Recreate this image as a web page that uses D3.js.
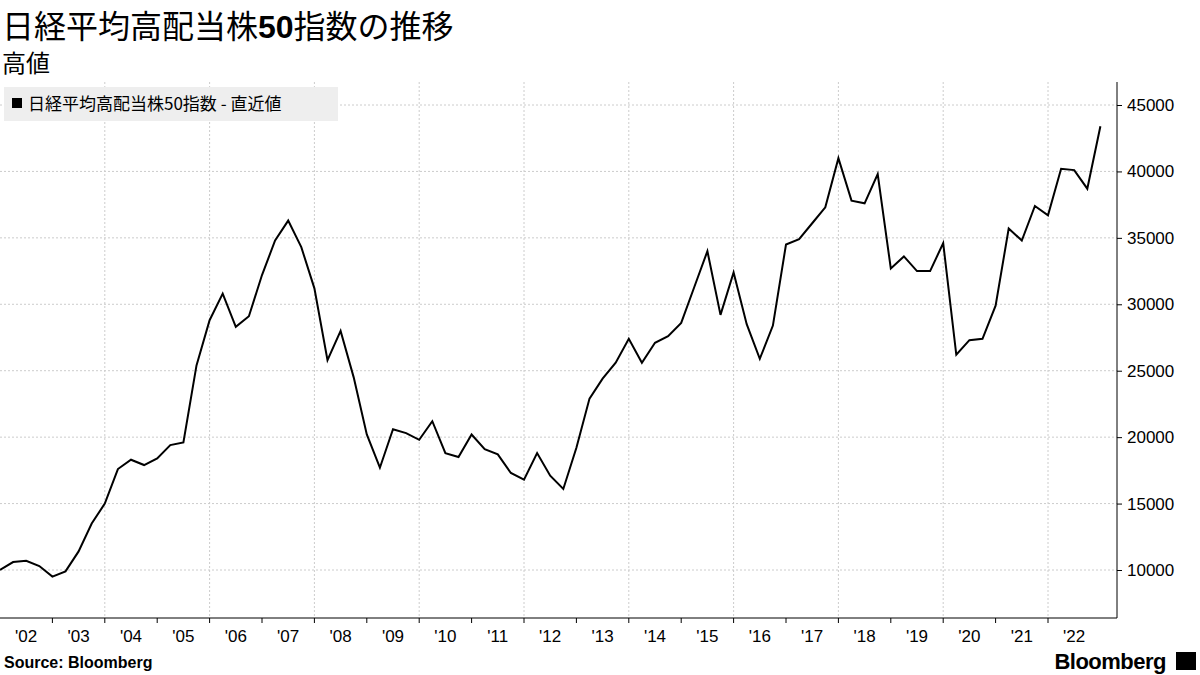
<!DOCTYPE html>
<html><head><meta charset="utf-8">
<script src="https://cdn.jsdelivr.net/npm/d3@7"></script>
<style>body{margin:0;background:#fff;font-family:"Noto Sans CJK JP","Noto Sans",sans-serif}</style>
</head><body><svg id="c" width="1200" height="675"></svg>
<script>
const startYear = 2002;
const values = [10000,10600,10700,10300,9500,9900,11400,13500,15000,17600,18300,17900,18400,19400,19600,25400,28800,30800,28300,29100,32200,34800,36300,34300,31200,25800,28000,24500,20200,17700,20600,20300,19800,21200,18800,18500,20200,19100,18700,17300,16800,18800,17100,16100,19200,22900,24400,25600,27400,25600,27100,27600,28600,31300,34000,29200,32400,28500,25900,28400,34500,34900,36100,37300,41000,37800,37600,39800,32700,33600,32500,32500,34600,26200,27300,27400,29900,35700,34800,37400,36700,40200,40100,38700,43400];
const yTicks = [10000,15000,20000,25000,30000,35000,40000,45000];
const yearLabels = ["'02","'03","'04","'05","'06","'07","'08","'09","'10","'11","'12","'13","'14","'15","'16","'17","'18","'19","'20","'21","'22"];

const svg = d3.select("#c");
const x = d3.scaleLinear().domain([2002, 2002 + 1117/52.4]).range([0, 1117]);
const y = d3.scaleLinear().domain([10000, 45000]).range([570, 105]);
const plotTop = 82, plotBottom = 618;

const years = d3.range(2002, 2023);
svg.append("g").selectAll("line").data(years.filter(v => v % 2 === 0 && v > 2002)).join("line")
  .attr("x1", d => x(d)).attr("x2", d => x(d)).attr("y1", plotTop).attr("y2", plotBottom)
  .attr("stroke", "#ccc").attr("stroke-dasharray", "2,2");
svg.append("g").selectAll("line").data(yTicks).join("line")
  .attr("x1", 0).attr("x2", 1117).attr("y1", d => y(d)).attr("y2", d => y(d))
  .attr("stroke", "#ccc").attr("stroke-dasharray", "2,2");

const ya = svg.append("g").attr("transform", "translate(1117,0)")
  .call(d3.axisRight(y).tickValues(yTicks).tickSize(5).tickFormat(d3.format("d")));
ya.select(".domain").remove();
ya.append("line").attr("x1",0).attr("x2",0).attr("y1",plotTop).attr("y2",plotBottom).attr("stroke","#000");
ya.selectAll("text").attr("font-size", 17).attr("font-family","Liberation Sans, Arial, sans-serif").attr("fill","#000").attr("x", 10);

svg.append("line").attr("x1",0).attr("x2",1117).attr("y1",plotBottom).attr("y2",plotBottom).attr("stroke","#000");
svg.append("g").selectAll("line").data(years.filter(v=>v>2002)).join("line")
  .attr("x1", d=>x(d)).attr("x2", d=>x(d)).attr("y1", plotBottom).attr("y2", plotBottom+5).attr("stroke","#000");
svg.append("g").selectAll("text").data(years).join("text")
  .attr("x", d => x(d + 0.5)).attr("y", 642).attr("text-anchor","middle")
  .attr("font-size", 17).attr("font-family","Liberation Sans, Arial, sans-serif")
  .text((d,i) => yearLabels[i]);

const line = d3.line().x((d,i) => x(startYear + i/4)).y(d => y(d));
svg.append("path").datum(values).attr("d", line).attr("fill","none").attr("stroke","#000").attr("stroke-width",2);

svg.append("rect").attr("x",4).attr("y",87).attr("width",334).attr("height",34).attr("fill","#eee");
svg.append("rect").attr("x",12).attr("y",98).attr("width",10).attr("height",10).attr("fill","#000");
svg.append("text").attr("x",28).attr("y",110).attr("font-size",17).text("日経平均高配当株50指数 - 直近値");

const t = svg.append("text").attr("x",2).attr("y",38).attr("font-size",32);
t.append("tspan").text("日経平均高配当株");
t.append("tspan").attr("font-weight","bold").attr("font-family","Liberation Sans, Arial, sans-serif").text("50");
t.append("tspan").text("指数の推移");
svg.append("text").attr("x",2).attr("y",72).attr("font-size",24).text("高値");
svg.append("text").attr("x",4).attr("y",668).attr("font-size",16).attr("font-weight","bold")
  .attr("font-family","Liberation Sans, Arial, sans-serif").text("Source:  Bloomberg");
svg.append("text").attr("x",1166).attr("y",669).attr("font-size",22).attr("font-weight","bold").attr("text-anchor","end")
  .attr("font-family","Liberation Sans, Arial, sans-serif").attr("letter-spacing","-0.5").text("Bloomberg");
svg.append("rect").attr("x",1176).attr("y",652).attr("width",20).attr("height",18).attr("fill","#000");
</script></body></html>
